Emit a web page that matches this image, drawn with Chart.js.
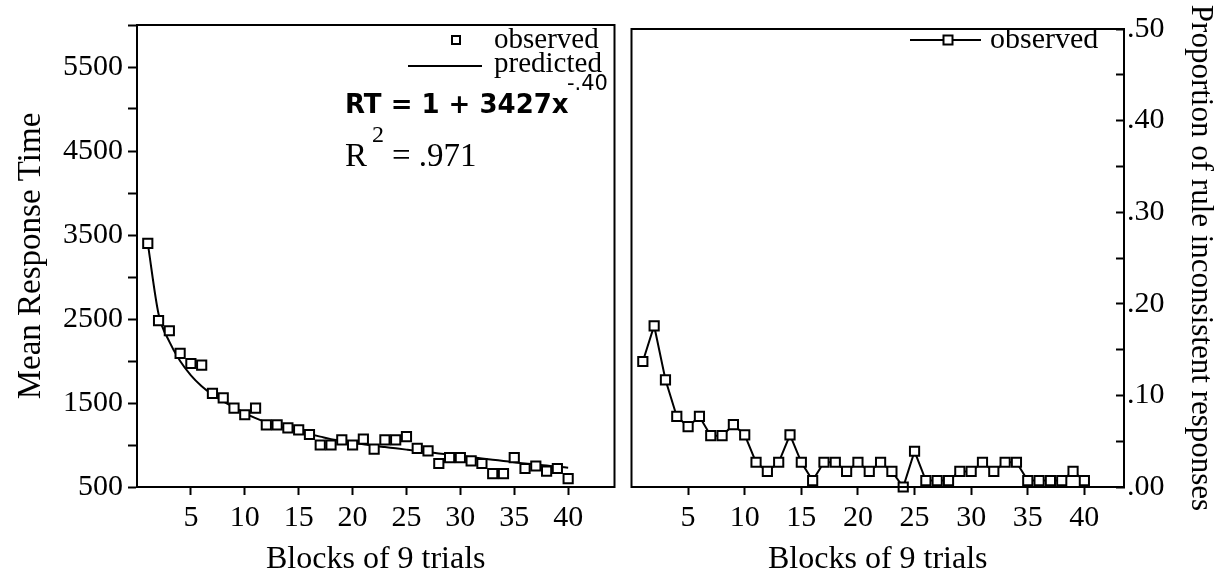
<!DOCTYPE html>
<html>
<head>
<meta charset="utf-8">
<script src="https://cdn.jsdelivr.net/npm/chart.js@4.4.0/dist/chart.umd.min.js"></script>
<style>
  html, body { margin: 0; padding: 0; background: #fff; }
  #wrap { position: relative; width: 1228px; height: 582px; overflow: hidden; }
  #left  { position: absolute; left: 0; top: 0; }
  #right { position: absolute; left: 623px; top: 0; }
</style>
</head>
<body>
<div id="wrap">
  <canvas id="left" width="623" height="582"></canvas>
  <canvas id="right" width="605" height="582"></canvas>
</div>
<script>
// ---- data ----
const blocks = [1, 2, 3, 4, 5, 6, 7, 8, 9, 10, 11, 12, 13, 14, 15, 16, 17, 18, 19, 20,
                21, 22, 23, 24, 25, 26, 27, 28, 29, 30, 31, 32, 33, 34, 35, 36, 37, 38, 39, 40];

// left panel: mean response time per block
const observedRT = [3400, 2480, 2360, 2090, 1970, 1950, 1615, 1560, 1440, 1360,
                    1440, 1240, 1240, 1205, 1180, 1125, 1000, 1000, 1060, 1000,
                    1070, 950, 1060, 1060, 1100, 960, 930, 780, 850, 850,
                    810, 780, 660, 660, 850, 720, 750, 690, 720, 600];
const predictedRT = [3400, 2560, 2230, 2000, 1830, 1700, 1600, 1520, 1450, 1380,
                     1320, 1270, 1230, 1190, 1160, 1130, 1100, 1070, 1050, 1030,
                     1010, 990, 975, 960, 945, 930, 915, 900, 885, 870,
                     855, 840, 825, 810, 795, 780, 768, 755, 742, 730];

// right panel: proportion of rule inconsistent responses per block
const inconsistent = [.137, .176, .117, .077, .066, .077, .056, .056, .068, .057,
                      .027, .017, .027, .057, .027, .007, .027, .027, .017, .027,
                      .017, .027, .017, .000, .039, .007, .007, .007, .017, .017,
                      .027, .017, .027, .027, .007, .007, .007, .007, .017, .007];

// axes
const xTicks = [5, 10, 15, 20, 25, 30, 35, 40];
const rtTicks = [500, 1000, 1500, 2000, 2500, 3000, 3500, 4000, 4500, 5000, 5500, 6000];
const rtLabels = [500, 1500, 2500, 3500, 4500, 5500];
const propTicks = [0, .05, .1, .15, .2, .25, .3, .35, .4, .45, .5];
const propMajor = [0, .1, .2, .3, .4, .5];
const propLabels = ['.00', '.10', '.20', '.30', '.40', '.50'];

const SERIF = '"Liberation Serif", "Times New Roman", serif';
const SANS = '"DejaVu Sans", sans-serif';
Chart.defaults.font.family = SERIF;
Chart.defaults.color = '#000';
Chart.defaults.animation = false;

const pts = vals => blocks.map((b, i) => ({ x: b, y: vals[i] }));

// box round the plot area
const frame = {
  id: 'frame',
  afterDatasetsDraw(chart) {
    const { ctx, chartArea: a } = chart;
    ctx.save();
    ctx.strokeStyle = '#000';
    ctx.lineWidth = 2;
    ctx.strokeRect(a.left, a.top, a.right - a.left, a.bottom - a.top);
    ctx.restore();
  }
};

// legend + equation text, drawn straight on the canvas
const notes = {
  id: 'notes',
  afterDraw(chart, args, opts) {
    const ctx = chart.ctx;
    ctx.save();
    ctx.fillStyle = '#000';
    ctx.strokeStyle = '#000';
    (opts.items || []).forEach(it => {
      if (it.type === 'text') {
        ctx.font = it.font;
        ctx.textAlign = it.align || 'left';
        ctx.textBaseline = it.baseline || 'alphabetic';
        ctx.fillText(it.text, it.x, it.y);
      } else if (it.type === 'line') {
        ctx.lineWidth = 2;
        ctx.beginPath();
        ctx.moveTo(it.x1, it.y);
        ctx.lineTo(it.x2, it.y);
        ctx.stroke();
      } else if (it.type === 'square') {
        ctx.lineWidth = 2;
        ctx.fillStyle = '#fff';
        ctx.fillRect(it.x - it.s / 2, it.y - it.s / 2, it.s, it.s);
        ctx.strokeRect(it.x - it.s / 2, it.y - it.s / 2, it.s, it.s);
        ctx.fillStyle = '#000';
      }
    });
    ctx.restore();
  }
};

function xAxis(max) {
  return {
    type: 'linear', min: 0, max: max,
    afterBuildTicks: s => { s.ticks = xTicks.map(v => ({ value: v })); },
    ticks: { font: { size: 30 }, padding: 5, maxRotation: 0, autoSkip: false },
    grid: { drawOnChartArea: false, drawTicks: true, tickLength: 8, tickWidth: 2, tickColor: '#000' },
    border: { display: true, color: '#000', width: 2 },
    title: { display: true, text: 'Blocks of 9 trials', font: { size: 32 }, padding: { top: 0, bottom: 3 } },
    afterFit: s => { s.height = 95; }
  };
}

new Chart(document.getElementById('left'), {
  type: 'scatter',
  data: {
    datasets: [
      {
        label: 'predicted', data: pts(predictedRT), showLine: true,
        pointRadius: 0, borderColor: '#000', borderWidth: 2,
        cubicInterpolationMode: 'monotone', order: 2
      },
      {
        label: 'observed', data: pts(observedRT), showLine: false,
        pointStyle: 'rect', pointRadius: 6.5, pointBorderWidth: 2,
        pointBorderColor: '#000', pointBackgroundColor: '#fff', clip: false, order: 1
      }
    ]
  },
  options: {
    responsive: false,
    layout: { padding: { top: 25, right: 5, left: 0, bottom: 0 } },
    plugins: {
      legend: { display: false }, tooltip: { enabled: false },
      notes: {
        items: [
          { type: 'square', x: 456, y: 40, s: 8 },
          { type: 'text', text: 'observed', x: 494, y: 40, baseline: 'middle', font: '29px ' + SERIF },
          { type: 'line', x1: 408, x2: 482, y: 66 },
          { type: 'text', text: 'predicted', x: 494, y: 64, baseline: 'middle', font: '29px ' + SERIF },
          { type: 'text', text: 'RT = 1 + 3427x', x: 345, y: 113, font: 'bold 26px ' + SANS },
          { type: 'text', text: '-.40', x: 567, y: 90, font: '21px ' + SANS },
          { type: 'text', text: 'R', x: 345, y: 166, font: '33px ' + SERIF },
          { type: 'text', text: '2', x: 372, y: 142, font: '24px ' + SERIF },
          { type: 'text', text: '= .971', x: 392, y: 166, font: '33px ' + SERIF }
        ]
      }
    },
    scales: {
      x: xAxis(44.3),
      y: {
        min: 500, max: 6000,
        afterBuildTicks: s => { s.ticks = rtTicks.map(v => ({ value: v })); },
        ticks: { font: { size: 30 }, padding: 5, callback: v => rtLabels.includes(v) ? String(v) : '' },
        grid: { drawOnChartArea: false, drawTicks: true, tickLength: 9, tickWidth: 2, tickColor: '#000' },
        border: { display: true, color: '#000', width: 2 },
        title: { display: true, text: 'Mean Response Time', font: { size: 33 }, padding: { top: 12 } },
        afterFit: s => { s.width = 137; }
      }
    }
  },
  plugins: [frame, notes]
});

new Chart(document.getElementById('right'), {
  type: 'scatter',
  data: {
    datasets: [
      {
        label: 'observed', data: pts(inconsistent), showLine: true,
        borderColor: '#000', borderWidth: 2,
        pointStyle: 'rect', pointRadius: 6.5, pointBorderWidth: 2,
        pointBorderColor: '#000', pointBackgroundColor: '#fff', clip: false
      }
    ]
  },
  options: {
    responsive: false,
    layout: { padding: { top: 25, right: 0, left: 6, bottom: 0 } },
    plugins: {
      legend: { display: false }, tooltip: { enabled: false },
      notes: {
        items: [
          { type: 'line', x1: 287, x2: 358, y: 40 },
          { type: 'square', x: 325, y: 40, s: 9 },
          { type: 'text', text: 'observed', x: 367, y: 40, baseline: 'middle', font: '30px ' + SERIF }
        ]
      }
    },
    scales: {
      x: xAxis(43.5),
      y: {
        position: 'right', min: 0, max: 0.5,
        afterBuildTicks: s => { s.ticks = propTicks.map(v => ({ value: v })); },
        ticks: {
          font: { size: 30 }, padding: 11,
          callback: v => {
            const i = propMajor.findIndex(m => Math.abs(m - v) < 1e-9);
            return i < 0 ? '' : propLabels[i];
          }
        },
        grid: { drawOnChartArea: false, drawTicks: true, tickLength: -8, tickWidth: 2, tickColor: '#000' },
        border: { display: true, color: '#000', width: 2 },
        title: { display: true, text: 'Proportion of rule inconsistent responses', font: { size: 31 }, padding: { top: 9 } },
        afterFit: s => { s.width = 104; }
      }
    }
  },
  plugins: [frame, notes]
});
</script>
</body>
</html>
